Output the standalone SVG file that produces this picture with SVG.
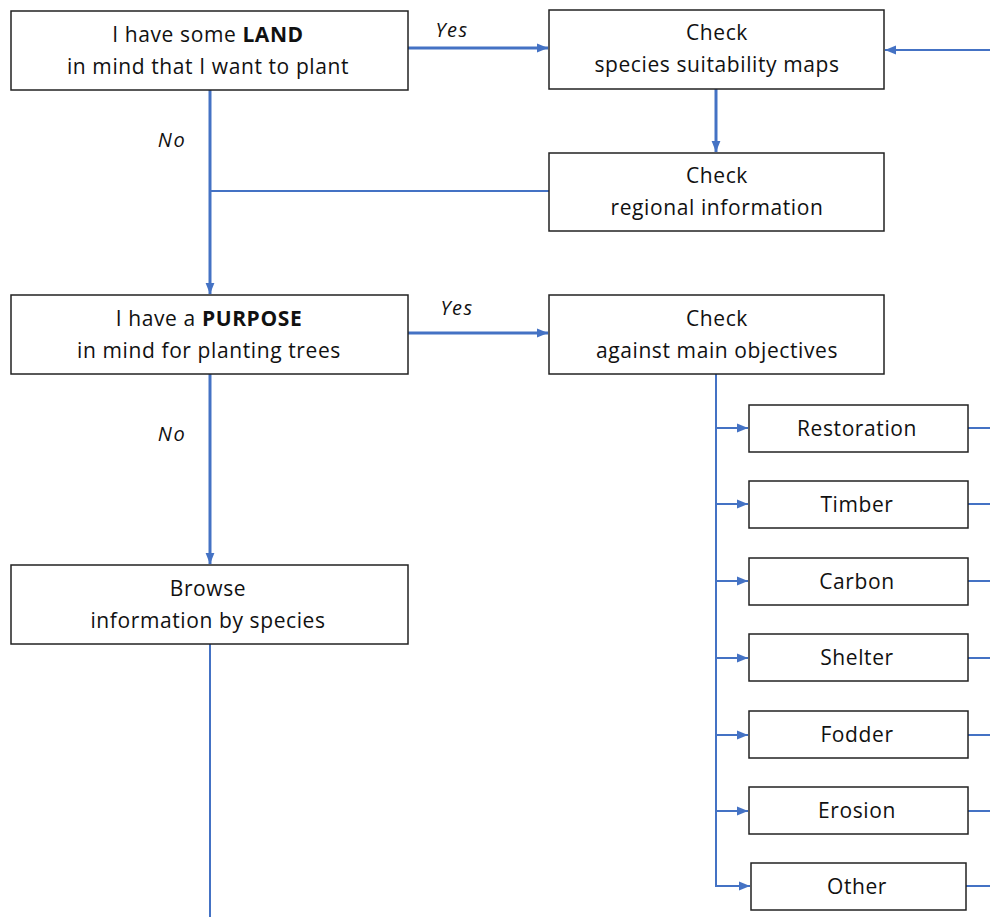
<svg xmlns="http://www.w3.org/2000/svg" width="990" height="917" viewBox="0 0 990 917">
<style>
.box{fill:#fff;stroke:#222;stroke-width:1.5}
text{font-family:"Open Sans","Noto Sans","DejaVu Sans",sans-serif;font-size:21px;letter-spacing:0.6px;fill:#111;text-anchor:middle}
.lbl{font-style:italic;font-size:20px;letter-spacing:1.5px}
.thick{stroke:#4472C4;stroke-width:3;fill:none}
.thin{stroke:#4472C4;stroke-width:2;fill:none}
</style>
<defs>
<marker id="ah" viewBox="0 0 10 10" refX="10" refY="5" markerWidth="11" markerHeight="11" markerUnits="userSpaceOnUse" orient="auto">
<path d="M0,1 L10,5 L0,9 Z" fill="#4472C4"/>
</marker>
</defs>
<rect width="990" height="917" fill="#fff"/>
<g id="connectors">
<line class="thick" x1="408" y1="48" x2="548" y2="48" marker-end="url(#ah)"/>
<line class="thin" x1="990" y1="50" x2="885" y2="50" marker-end="url(#ah)"/>
<line class="thick" x1="716" y1="89" x2="716" y2="152" marker-end="url(#ah)"/>
<line class="thin" x1="549" y1="191" x2="210" y2="191"/>
<line class="thick" x1="210" y1="90" x2="210" y2="294" marker-end="url(#ah)"/>
<line class="thick" x1="408" y1="333" x2="548" y2="333" marker-end="url(#ah)"/>
<line class="thick" x1="210" y1="374" x2="210" y2="564" marker-end="url(#ah)"/>
<line class="thin" x1="210" y1="644" x2="210" y2="917"/>
<polyline class="thin" points="716,374 716,886 750,886" marker-end="url(#ah)"/>
<line class="thin" x1="716" y1="428" x2="748" y2="428" marker-end="url(#ah)"/>
<line class="thin" x1="716" y1="504" x2="748" y2="504" marker-end="url(#ah)"/>
<line class="thin" x1="716" y1="581" x2="748" y2="581" marker-end="url(#ah)"/>
<line class="thin" x1="716" y1="658" x2="748" y2="658" marker-end="url(#ah)"/>
<line class="thin" x1="716" y1="735" x2="748" y2="735" marker-end="url(#ah)"/>
<line class="thin" x1="716" y1="811" x2="748" y2="811" marker-end="url(#ah)"/>
<line class="thin" x1="968" y1="428" x2="990" y2="428"/>
<line class="thin" x1="968" y1="504" x2="990" y2="504"/>
<line class="thin" x1="968" y1="581" x2="990" y2="581"/>
<line class="thin" x1="968" y1="658" x2="990" y2="658"/>
<line class="thin" x1="968" y1="735" x2="990" y2="735"/>
<line class="thin" x1="968" y1="811" x2="990" y2="811"/>
<line class="thin" x1="966" y1="886" x2="990" y2="886"/>
<text class="lbl" x="452" y="37">Yes</text>
<text class="lbl" x="172" y="147">No</text>
<text class="lbl" x="457" y="315">Yes</text>
<text class="lbl" x="172" y="441">No</text>
</g>
<g id="land">
<rect class="box" x="11" y="11" width="397" height="79"/>
<text x="208" y="42">I have some <tspan font-weight="bold">LAND</tspan></text>
<text x="208" y="74">in mind that I want to plant</text>
</g>
<g id="suitability">
<rect class="box" x="549" y="10" width="335" height="79"/>
<text x="717" y="40">Check</text>
<text x="717" y="72">species suitability maps</text>
</g>
<g id="regional">
<rect class="box" x="549" y="153" width="335" height="78"/>
<text x="717" y="183">Check</text>
<text x="717" y="215">regional information</text>
</g>
<g id="purpose">
<rect class="box" x="11" y="295" width="397" height="79"/>
<text x="209" y="326">I have a <tspan font-weight="bold">PURPOSE</tspan></text>
<text x="209" y="358">in mind for planting trees</text>
</g>
<g id="objectives">
<rect class="box" x="549" y="295" width="335" height="79"/>
<text x="717" y="326">Check</text>
<text x="717" y="358">against main objectives</text>
</g>
<g id="browse">
<rect class="box" x="11" y="565" width="397" height="79"/>
<text x="208" y="596">Browse</text>
<text x="208" y="628">information by species</text>
</g>
<g id="restoration"><rect class="box" x="749" y="405" width="219" height="47"/><text x="857" y="436">Restoration</text></g>
<g id="timber"><rect class="box" x="749" y="481" width="219" height="47"/><text x="857" y="512">Timber</text></g>
<g id="carbon"><rect class="box" x="749" y="558" width="219" height="47"/><text x="857" y="589">Carbon</text></g>
<g id="shelter"><rect class="box" x="749" y="634" width="219" height="47"/><text x="857" y="665">Shelter</text></g>
<g id="fodder"><rect class="box" x="749" y="711" width="219" height="47"/><text x="857" y="742">Fodder</text></g>
<g id="erosion"><rect class="box" x="749" y="787" width="219" height="47"/><text x="857" y="818">Erosion</text></g>
<g id="other"><rect class="box" x="751" y="863" width="215" height="47"/><text x="857" y="894">Other</text></g>
</svg>
